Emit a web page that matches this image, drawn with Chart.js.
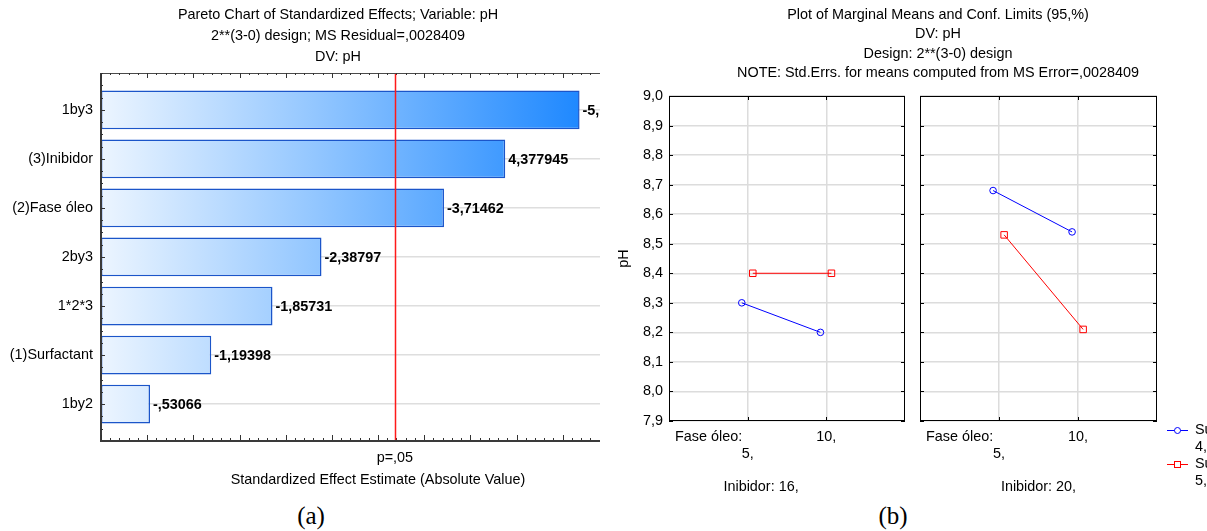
<!DOCTYPE html>
<html>
<head>
<meta charset="utf-8">
<title>pH – efeitos padronizados e médias marginais</title>
<script src="https://cdn.jsdelivr.net/npm/chart.js@4.4.1/dist/chart.umd.min.js"></script>
<style>
  html, body { margin: 0; padding: 0; background: #fff; width: 1207px; height: 531px; overflow: hidden; }
  .wrap { position: absolute; top: 0; height: 500px; overflow: hidden; }
  #wrapA { left: 0; width: 600px; }
  #wrapB { left: 600px; width: 607px; }
  canvas { display: block; position: absolute; top: 0; }
  .cap { position: absolute; top: 503px; height: 26px; line-height: 26px; font-family: 'Liberation Serif', 'Times New Roman', serif; font-size: 25px; color: #000; transform: translateX(-50%); }
</style>
</head>
<body>
<div id="wrapA" class="wrap"><canvas id="pareto" width="676" height="500" style="left:0"></canvas></div>
<div id="wrapB" class="wrap">
  <canvas id="panel1" width="676" height="500" style="left:0"></canvas>
  <canvas id="panel2" width="302" height="500" style="left:305px"></canvas>
</div>
<div class="cap" style="left:311px">(a)</div>
<div class="cap" style="left:893px">(b)</div>

<script>
// ---- Pareto chart of standardized effects ----
const effectNames  = ['1by3', '(3)Inibidor', '(2)Fase óleo', '2by3', '1*2*3', '(1)Surfactant', '1by2'];
const effectValues = [-5.18303, 4.377945, -3.71462, -2.38797, -1.85731, -1.19398, -0.53066];
const pCritical = 3.182446;   // t(0.975; 3)

// ---- Marginal means of pH ----
const surfactantLevels = [4, 5];
const faseOleoLevels   = [5, 10];
const inibidorLevels   = [16, 20];
const phSurf4Inib16 = [8.30, 8.20];
const phSurf5Inib16 = [8.40, 8.40];
const phSurf4Inib20 = [8.68, 8.54];
const phSurf5Inib20 = [8.53, 8.21];
const phTicks = [7.9, 8.0, 8.1, 8.2, 8.3, 8.4, 8.5, 8.6, 8.7, 8.8, 8.9, 9.0];

const FONT_FAMILY = "'Liberation Sans', Arial, Helvetica, sans-serif";
const FS = 14.4;
Chart.defaults.font.family = FONT_FAMILY;
Chart.defaults.font.size = FS;
Chart.defaults.color = '#000';

// Statistica-style number text: decimal comma, no leading zero
function fmtEffect(v) {
  return String(v).replace('.', ',').replace(/^(-?)0,/, '$1,');
}

function barGradient(chart) {
  const { ctx, chartArea, scales } = chart;
  if (!chartArea) return '#9fcbff';
  const g = ctx.createLinearGradient(chartArea.left, 0, scales.x.getPixelForValue(5.2), 0);
  g.addColorStop(0, '#ecf5ff');
  g.addColorStop(0.45, '#92c6ff');
  g.addColorStop(1, '#1e88ff');
  return g;
}

// empty right-hand axis that only reserves room, so titles centre on the full canvas
function spacerAxis(width) {
  return {
    type: 'linear', position: 'right', display: true,
    grid: { display: false, drawTicks: false, tickLength: 0 },
    border: { display: false },
    ticks: { display: false },
    afterFit: s => { s.width = width; }
  };
}

const paretoDecor = {
  id: 'paretoDecor',
  afterDatasetsDraw(chart) {
    const { ctx, chartArea: a, scales: { x, y } } = chart;
    ctx.save();
    // frame
    ctx.strokeStyle = '#4a4a4a';
    ctx.lineWidth = 1;
    ctx.beginPath();
    ctx.moveTo(a.left, a.top + 0.5); ctx.lineTo(a.right, a.top + 0.5);
    ctx.moveTo(a.right - 0.5, a.top); ctx.lineTo(a.right - 0.5, a.bottom);
    ctx.stroke();
    ctx.lineWidth = 2;
    ctx.strokeStyle = '#3a3a3a';
    ctx.beginPath();
    ctx.moveTo(a.left, a.top); ctx.lineTo(a.left, a.bottom + 1);
    ctx.lineTo(a.right, a.bottom + 1);
    ctx.stroke();

    // inner tick marks along top and bottom
    ctx.lineWidth = 1;
    ctx.strokeStyle = '#333';
    ctx.beginPath();
    for (let k = 0; k <= 60; k++) {
      const tx = Math.round(x.getPixelForValue(k / 10)) + 0.5;
      const len = k % 5 === 0 ? 5 : 2;
      ctx.moveTo(tx, a.bottom); ctx.lineTo(tx, a.bottom - len);
      ctx.moveTo(tx, a.top); ctx.lineTo(tx, a.top + len);
    }
    // left ticks at the effects, minor in between
    for (let k = -3; k <= 26; k++) {
      const ty = Math.round(y.getPixelForValue(k / 4)) + 0.5;
      const len = k % 4 === 0 ? 4 : 2;
      ctx.moveTo(a.left, ty); ctx.lineTo(a.left + len, ty);
    }
    ctx.stroke();

    // effect values next to the bars
    ctx.fillStyle = '#000';
    ctx.font = 'bold ' + FS + 'px ' + FONT_FAMILY;
    ctx.textAlign = 'left';
    ctx.textBaseline = 'middle';
    chart.getDatasetMeta(0).data.forEach((bar, i) => {
      ctx.fillText(fmtEffect(effectValues[i]), bar.x + 3, bar.y + 1);
    });
    ctx.restore();
  },
  afterDraw(chart) {
    // critical t value (p = .05)
    const { ctx, chartArea: a, scales: { x } } = chart;
    const px = x.getPixelForValue(pCritical);
    ctx.save();
    ctx.fillStyle = '#ff1a1a';
    ctx.fillRect(Math.round(px) - 0.25, a.top + 1, 1.5, a.bottom - a.top - 1);
    ctx.restore();
  }
};

new Chart(document.getElementById('pareto'), {
  type: 'bar',
  data: {
    datasets: [{
      data: effectValues.map((v, i) => ({ x: Math.abs(v), y: i })),
      backgroundColor: ctx => barGradient(ctx.chart),
      borderColor: '#1b55c9',
      borderWidth: 1.5,
      borderSkipped: false,
      barPercentage: 0.79,
      categoryPercentage: 1
    }]
  },
  options: {
    indexAxis: 'y',
    responsive: false,
    animation: false,
    events: [],
    plugins: {
      legend: { display: false },
      tooltip: { enabled: false },
      title: {
        display: true,
        text: ['Pareto Chart of Standardized Effects; Variable: pH', '2**(3-0) design; MS Residual=,0028409', 'DV: pH'],
        font: { size: FS, weight: 'normal', lineHeight: 21 / FS },
        color: '#000',
        padding: { top: 4.5, bottom: 5.5 }
      }
    },
    scales: {
      x: {
        type: 'linear', min: 0, max: 6,
        grid: { display: false, drawTicks: false, tickLength: 0 },
        border: { display: false },
        afterBuildTicks: s => { s.ticks = [{ value: pCritical }]; },
        ticks: { callback: () => 'p=,05', autoSkip: false, maxRotation: 0, padding: 9, color: '#000' },
        title: { display: true, text: 'Standardized Effect Estimate (Absolute Value)', color: '#000', padding: { top: 2, bottom: 11.4 } },
        afterFit: s => { s.height = 60; }
      },
      y: {
        type: 'linear', reverse: true, min: -0.75, max: 6.73,
        offset: false,
        grid: { color: '#dedede', lineWidth: 1.5, drawTicks: false, offset: false },
        border: { display: false },
        afterBuildTicks: s => { s.ticks = effectNames.map((_, i) => ({ value: i })); },
        ticks: { callback: v => effectNames[v], padding: 8, color: '#000', autoSkip: false },
        afterFit: s => { s.width = 101; }
      },
      spacer: spacerAxis(21)
    }
  },
  plugins: [paretoDecor]
});

// ---- Marginal means panels ----
const seriesColors  = ['#0000ff', '#ff0000'];
const seriesMarkers = ['circle', 'rect'];
const seriesShift   = [-0.075, 0.065];
const panelSeries = [[phSurf4Inib16, phSurf5Inib16], [phSurf4Inib20, phSurf5Inib20]];
const inibidorLabelAt = [1.17, 1.5];

function panelDecor(p) {
  return {
    id: 'panelDecor' + p,
    afterDatasetsDraw(chart) {
      const { ctx, chartArea: a, scales: { x, y } } = chart;
      ctx.save();
      ctx.strokeStyle = '#000';
      ctx.lineWidth = 1;
      ctx.strokeRect(a.left + 0.5, a.top + 0.5, a.width - 1, a.height - 1);
      ctx.beginPath();
      phTicks.forEach(v => {
        const ty = Math.round(y.getPixelForValue(v)) + 0.5;
        ctx.moveTo(a.left, ty); ctx.lineTo(a.left + 4, ty);
        ctx.moveTo(a.right, ty); ctx.lineTo(a.right - 4, ty);
      });
      faseOleoLevels.forEach((_, k) => {
        const tx = Math.round(x.getPixelForValue(k + 1)) + 0.5;
        ctx.moveTo(tx, a.top); ctx.lineTo(tx, a.top + 4);
        ctx.moveTo(tx, a.bottom); ctx.lineTo(tx, a.bottom - 4);
      });
      ctx.stroke();

      ctx.fillStyle = '#000';
      ctx.font = FS + 'px ' + FONT_FAMILY;
      ctx.textBaseline = 'middle';
      ctx.textAlign = 'left';
      ctx.fillText('Fase óleo:', a.left + 6, a.bottom + 16);
      ctx.textAlign = 'center';
      ctx.fillText('Inibidor: ' + inibidorLevels[p] + ',', x.getPixelForValue(inibidorLabelAt[p]), a.bottom + 66);
      ctx.restore();
    }
  };
}

const legendDecor = {
  id: 'legendDecor',
  afterDraw(chart) {
    const { ctx, chartArea: a } = chart;
    ctx.save();
    ctx.font = FS + 'px ' + FONT_FAMILY;
    ctx.textBaseline = 'middle';
    ctx.textAlign = 'left';
    surfactantLevels.forEach((lvl, s) => {
      const ly = a.bottom + 9.5 + s * 34;
      const x0 = a.right + 10, x1 = a.right + 31, xm = (x0 + x1) / 2;
      ctx.strokeStyle = seriesColors[s];
      ctx.lineWidth = 1;
      ctx.beginPath(); ctx.moveTo(x0, ly); ctx.lineTo(x1, ly); ctx.stroke();
      ctx.fillStyle = '#fff';
      if (s === 0) {
        ctx.beginPath(); ctx.arc(xm, ly, 3, 0, Math.PI * 2); ctx.fill(); ctx.stroke();
      } else {
        ctx.fillRect(xm - 3, ly - 3, 6, 6); ctx.strokeRect(xm - 3, ly - 3, 6, 6);
      }
      ctx.fillStyle = '#000';
      ctx.fillText('Surfactant', x1 + 7, ly);
      ctx.fillText(lvl + ',', x1 + 7, ly + 17);
    });
    ctx.restore();
  }
};

function panelChart(canvasId, p, opt) {
  const scales = {
    x: {
      type: 'linear', min: 0, max: 3,
      grid: { color: '#dcdcdc', lineWidth: 1.5, drawTicks: false },
      border: { display: false },
      afterBuildTicks: s => { s.ticks = faseOleoLevels.map((_, k) => ({ value: k + 1 })); },
      ticks: {
        callback: (v, k) => k === 0 ? ['', faseOleoLevels[k] + ','] : [faseOleoLevels[k] + ','],
        autoSkip: false, maxRotation: 0, padding: 7.5, color: '#000',
        font: { size: FS, lineHeight: 17 / FS }
      },
      afterFit: s => { s.height = 79; }
    },
    y: {
      type: 'linear', min: 7.9, max: 9.0,
      grid: { color: '#dcdcdc', lineWidth: 1.5, drawTicks: false },
      border: { display: false },
      afterBuildTicks: s => { s.ticks = phTicks.map(v => ({ value: v })); },
      ticks: { display: opt.yLabels, callback: v => v.toFixed(1).replace('.', ','), padding: 6, color: '#000' },
      title: { display: opt.yLabels, text: 'pH', color: '#000', padding: { top: 15.4, bottom: 0 } },
      afterFit: s => { s.width = opt.yWidth; }
    }
  };
  if (opt.spacer) scales.spacer = spacerAxis(opt.spacer);
  return new Chart(document.getElementById(canvasId), {
    type: 'scatter',
    data: {
      datasets: panelSeries[p].map((vals, s) => ({
        label: 'Surfactant ' + surfactantLevels[s] + ',',
        data: vals.map((v, k) => ({ x: k + 1 + seriesShift[s], y: v })),
        showLine: true,
        borderColor: seriesColors[s],
        borderWidth: 1,
        pointStyle: seriesMarkers[s],
        pointRadius: s ? 4.6 : 3.3,
        pointBorderWidth: 1,
        pointBorderColor: seriesColors[s],
        pointBackgroundColor: 'rgba(255,255,255,0)'
      }))
    },
    options: {
      responsive: false,
      animation: false,
      events: [],
      layout: { padding: { top: opt.padTop, right: opt.padRight } },
      plugins: {
        legend: { display: false },
        tooltip: { enabled: false },
        title: opt.title
      },
      scales
    },
    plugins: opt.plugins
  });
}

panelChart('panel1', 0, {
  padTop: 0, padRight: 0, spacer: 371, yWidth: 69, yLabels: true,
  title: {
    display: true,
    text: ['Plot of Marginal Means and Conf. Limits (95,%)', 'DV: pH', 'Design: 2**(3-0) design',
           'NOTE: Std.Errs. for means computed from MS Error=,0028409'],
    font: { size: FS, weight: 'normal', lineHeight: 19.5 / FS },
    color: '#000',
    padding: { top: 5, bottom: 13 }
  },
  plugins: [panelDecor(0)]
});

panelChart('panel2', 1, {
  padTop: 96, padRight: 50, yWidth: 15, yLabels: false,
  title: { display: false },
  plugins: [panelDecor(1), legendDecor]
});
</script>
</body>
</html>
